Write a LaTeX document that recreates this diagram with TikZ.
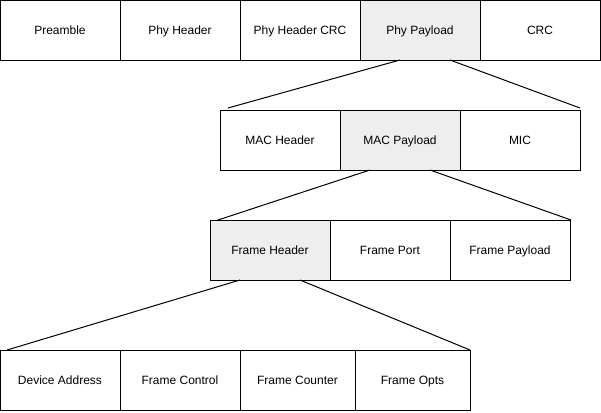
\documentclass[tikz,border=0pt]{standalone}
\usepackage{fontspec}
\setmainfont{Liberation Sans}
\usetikzlibrary{calc}
\definecolor{hilite}{HTML}{EEEEEE}
\tikzset{
	field/.style    = {draw, rectangle, line width=0.75pt, minimum height = 45pt,
		minimum width = 90pt, inner sep=0pt, outer sep=0pt,
		text height=1.6ex, text depth=0.4ex,
		font=\fontsize{9}{11}\selectfont},
	open/.style     = {field, fill=hilite}, % expanded field
	short/.style    = {field, minimum width = 86.25pt},
	zoom/.style     = {line width=0.75pt}
}

\begin{document}
\begin{tikzpicture}[x=0.75pt, y=-0.75pt]
	\useasboundingbox (0,0) rectangle (601,412);
	% Phy frame
	\draw
	node at (60,30)  [field] (pre) {Preamble}
	node at (180,30) [field] (phh) {Phy Header}
	node at (300,30) [field] (phc) {Phy Header CRC}
	node at (420,30) [open]  (php) {Phy Payload}
	node at (540,30) [field] (crc) {CRC}
	;
	% MAC frame
	\draw
	node at (280,140) [field] (mach) {MAC Header}
	node at (400,140) [open]  (macp) {MAC Payload}
	node at (520,140) [field] (mic)  {MIC}
	;
	% Frame layer
	\draw
	node at (270,250) [open]  (frh) {Frame Header}
	node at (390,250) [field] (frp) {Frame Port}
	node at (510,250) [field] (frl) {Frame Payload}
	;
	% Frame header fields
	\draw
	node at (60,380)    [field] (dev) {Device Address}
	node at (180,380)   [field] (ctl) {Frame Control}
	node at (297.5,380) [short] (cnt) {Frame Counter}
	node at (412.5,380) [short] (opt) {Frame Opts}
	;

	\coordinate (php1) at ($(php.south west)!0.333!(php.south east)$);
	\coordinate (php2) at ($(php.south west)!0.75!(php.south east)$);
	\coordinate (mac1) at ($(macp.south west)!0.25!(macp.south east)$);
	\coordinate (mac2) at ($(macp.south west)!0.75!(macp.south east)$);
	\coordinate (frh1) at ($(frh.south west)!0.25!(frh.south east)$);
	\coordinate (frh2) at ($(frh.south west)!0.75!(frh.south east)$);
	\coordinate (m1) at (228,108);
	\coordinate (m2) at (580,108);
	\coordinate (f1) at (218,220);
	\coordinate (f2) at (571,220);
	\coordinate (d1) at (7,350);
	\coordinate (d2) at (470,350);

	\draw[zoom] (php1) -- (m1);
	\draw[zoom] (php2) -- (m2);
	\draw[zoom] (mac1) -- (f1);
	\draw[zoom] (mac2) -- (f2);
	\draw[zoom] (frh1) -- (d1);
	\draw[zoom] (frh2) -- (d2);
\end{tikzpicture}
\end{document}
